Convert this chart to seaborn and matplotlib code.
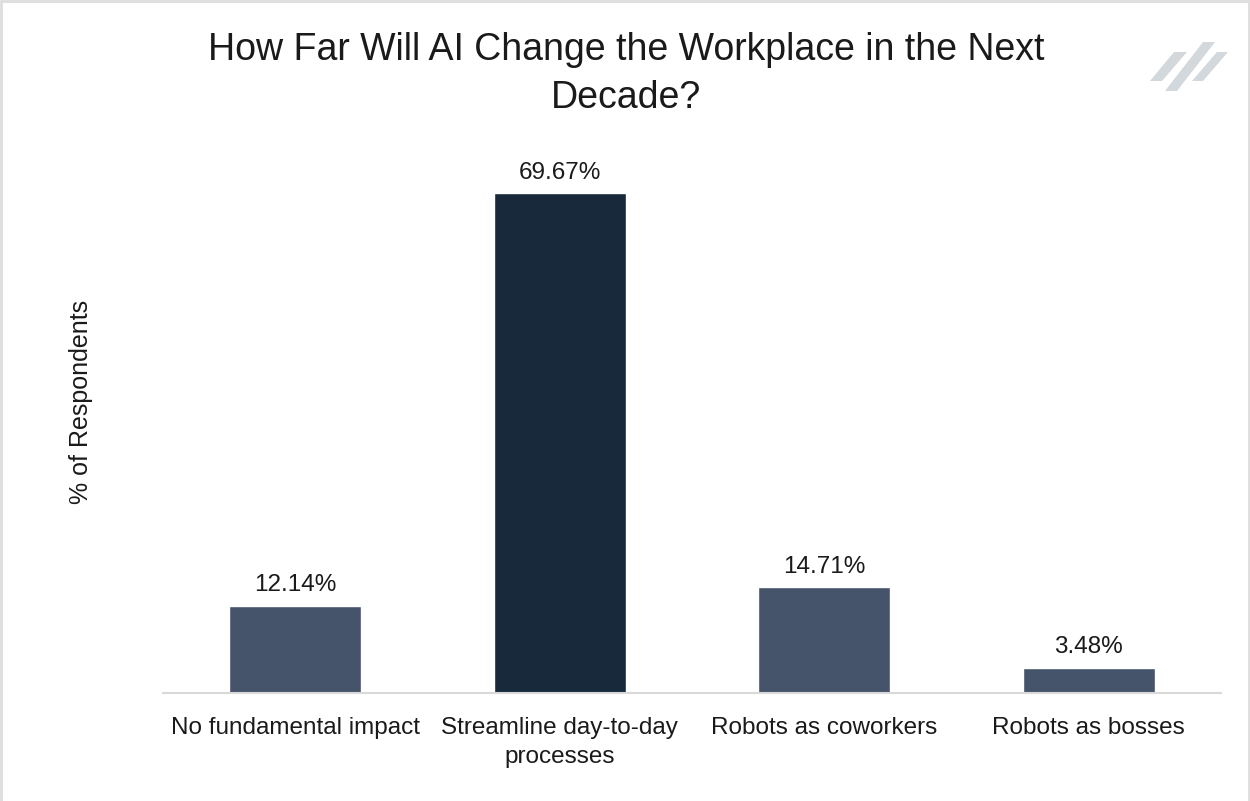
import matplotlib
matplotlib.use("Agg")
import matplotlib.pyplot as plt
from matplotlib.patches import Polygon
import seaborn as sns
import pandas as pd

# Survey results
categories = ["No fundamental impact", "Streamline day-to-day\nprocesses",
              "Robots as coworkers", "Robots as bosses"]
shares = [12.14, 69.67, 14.71, 3.48]
value_labels = ["12.14%", "69.67%", "14.71%", "3.48%"]

title = "How Far Will AI Change the Workplace in the Next\nDecade?"
y_title = "% of Respondents"

base_color = "#45546A"
highlight_color = "#17293A"
bar_colors = [base_color, highlight_color, base_color, base_color]
text_color = "#1a1a1a"

sns.set_theme(style="white")
plt.rcParams["font.family"] = ["Liberation Sans", "DejaVu Sans"]

df = pd.DataFrame({"category": categories, "share": shares})

W, H = 1250, 801
fig = plt.figure(figsize=(W / 100, H / 100), dpi=100)
ax = fig.add_axes([163 / W, 1 - 693 / H, 1058 / W, 538 / H])

sns.barplot(data=df, x="category", y="share", hue="category",
            palette=bar_colors, legend=False, width=0.5, ax=ax,
            saturation=1)

for patch, txt in zip(ax.patches, value_labels):
    ax.annotate(txt, (patch.get_x() + patch.get_width() / 2, patch.get_height()),
                xytext=(0, 7), textcoords="offset points",
                ha="center", va="bottom", fontsize=17.5, color=text_color)

ax.set_xlim(-0.5, 3.5)
ax.set_ylim(0, 75)
ax.set_yticks([])
ax.set_xlabel("")
ax.set_ylabel(y_title, fontsize=18, color=text_color)
ax.yaxis.set_label_coords(-0.066, 0.541)
ax.tick_params(axis="x", length=0, pad=17, labelsize=17.5, labelcolor=text_color)
for lbl in ax.get_xticklabels():
    lbl.set_linespacing(1.45)
for side in ["top", "left", "right"]:
    ax.spines[side].set_visible(False)
ax.spines["bottom"].set_color("#D9D9D9")
ax.spines["bottom"].set_linewidth(1.5)

fig.text(626 / W, 1 - 74 / H, title, ha="center", va="center",
         fontsize=27, color=text_color, linespacing=1.4)

# Figure frame (top, left, right)
frame_kw = dict(color="#DDDDDD", linewidth=2, transform=fig.transFigure)
fig.add_artist(plt.Line2D([1 / W, 1 / W], [0, 1 - 1 / H], **frame_kw))
fig.add_artist(plt.Line2D([1 / W, 1 - 1 / W], [1 - 1 / H, 1 - 1 / H], **frame_kw))
fig.add_artist(plt.Line2D([1 - 1 / W, 1 - 1 / W], [0, 1 - 1 / H], **frame_kw))

# Brand mark: three slanted stripes
def px(x, y):
    return (x / W, 1 - y / H)

stripes = [
    [(1174, 52), (1187, 52), (1162, 81), (1150, 81)],
    [(1203, 42), (1215, 42), (1177, 91), (1165, 91)],
    [(1217, 52), (1228, 52), (1203, 81), (1192, 81)],
]
for s in stripes:
    fig.add_artist(Polygon([px(*p) for p in s], closed=True,
                           facecolor="#D3D8DC", edgecolor="none",
                           transform=fig.transFigure))

fig.savefig("out.png", dpi=100, facecolor="white")
